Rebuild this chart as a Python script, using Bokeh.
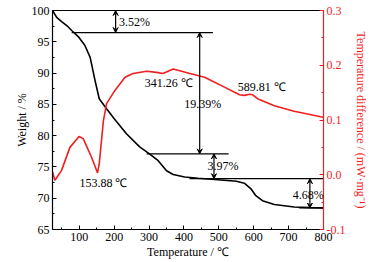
from bokeh.plotting import figure
from bokeh.models import (Range1d, LinearAxis, Arrow, VeeHead, Label, FixedTicker)
from bokeh.embed import file_html
from bokeh.resources import INLINE

# TG curve (weight %)
tg_T = [23, 35, 50, 64, 78, 99, 116, 131, 145, 157, 178, 200, 235, 273, 301, 326, 350, 369, 402, 440, 497, 550, 573, 592, 606, 625, 659, 716, 760, 800]
tg_W = [100, 98.9, 98.2, 97.6, 96.8, 95.7, 94.4, 92.5, 88.8, 85.9, 84.3, 82.7, 80.3, 78.2, 77.1, 76.0, 74.4, 73.8, 73.4, 73.2, 72.95, 72.7, 72.4, 71.5, 70.4, 69.6, 69.0, 68.6, 68.5, 68.45]

# DTA curve (mW/mg)
dta_T = [23, 30, 49, 73, 99, 111, 135, 152, 157, 169, 178, 202, 231, 254, 293, 321, 340, 369, 393, 417, 459, 516, 559, 573, 589, 597, 611, 659, 716, 792, 800]
dta_D = [0.005, -0.010, 0.008, 0.050, 0.070, 0.066, 0.032, 0.0035, 0.020, 0.099, 0.130, 0.154, 0.178, 0.185, 0.189, 0.187, 0.185, 0.193, 0.189, 0.185, 0.178, 0.160, 0.146, 0.145, 0.147, 0.146, 0.139, 0.126, 0.116, 0.106, 0.105]

# mass-loss steps (%)
steps = [3.52, 19.39, 3.97, 4.68]
peak_labels = ["153.88 ℃", "341.26 ℃", "589.81 ℃"]
x_ticks = [100, 200, 300, 400, 500, 600, 700, 800]
y_ticks = [65, 70, 75, 80, 85, 90, 95, 100]
y2_ticks = [-0.1, 0.0, 0.1, 0.2, 0.3]
y2_title = "Temperature difference / (mW·mg⁻¹)"

FONT = "Liberation Serif"
RED = "#f01e1e"

levels = [100.0]
for s in steps:
    levels.append(round(levels[-1] - s, 2))

p = figure(width=375, height=262, output_backend="svg", toolbar_location=None,
           x_range=Range1d(23, 800), y_range=Range1d(65, 100),
           min_border_left=52, min_border_right=52, min_border_top=10, min_border_bottom=33)
p.extra_y_ranges = {"dta": Range1d(-0.1, 0.3)}
p.outline_line_color = None
p.xgrid.visible = False
p.ygrid.visible = False
p.background_fill_color = "white"
p.border_fill_color = "white"

def style_axis(ax, color="black"):
    ax.axis_line_color = color
    ax.axis_line_width = 1.2
    ax.major_tick_line_color = color
    ax.minor_tick_line_color = color
    ax.major_tick_in = 4
    ax.major_tick_out = 0
    ax.minor_tick_in = 2
    ax.minor_tick_out = 0
    ax.major_label_text_font = FONT
    ax.major_label_text_font_size = "12px"
    ax.major_label_text_color = color
    ax.axis_label_text_font = FONT
    ax.axis_label_text_font_size = "12px"
    ax.axis_label_text_font_style = "normal"
    ax.axis_label_text_color = color

xa = p.xaxis[0]
style_axis(xa)
xa.ticker = FixedTicker(ticks=x_ticks, minor_ticks=[50 + 100 * i for i in range(8)])
xa.axis_label = "Temperature / ℃"
xa.major_label_standoff = 3
xa.axis_label_standoff = 1

ya = p.yaxis[0]
style_axis(ya)
ya.ticker = FixedTicker(ticks=y_ticks, minor_ticks=[67.5 + 5 * i for i in range(7)])
ya.axis_label = "Weight / %"
ya.major_label_standoff = 3
ya.axis_label_standoff = 0

ra = LinearAxis(y_range_name="dta", axis_label=y2_title)
style_axis(ra, RED)
ra.ticker = FixedTicker(ticks=y2_ticks, minor_ticks=[-0.05, 0.05, 0.15, 0.25])
ra.major_label_overrides = {-0.1: "-0.1", 0.0: "0.0", 0.1: "0.1", 0.2: "0.2", 0.3: "0.3"}
ra.major_label_standoff = 3
ra.axis_label_standoff = 6
p.add_layout(ra, "right")

ta = LinearAxis(major_tick_in=0, major_tick_out=0, minor_tick_in=0, minor_tick_out=0,
                major_label_text_font_size="0px", axis_line_color="black", axis_line_width=1.2)
ta.ticker = FixedTicker(ticks=[])
p.add_layout(ta, "above")

# curves
p.line(tg_T, tg_W, line_color="black", line_width=1.6)
p.line(dta_T, dta_D, line_color=RED, line_width=1.6, y_range_name="dta")

# reference segments
p.segment(x0=[78, 293, 416, 730], y0=levels[1:], x1=[483, 528, 800, 800], y1=levels[1:],
          line_color="black", line_width=1.2)

# double arrows
for xa_, i in zip([204, 445, 486, 761], range(4)):
    p.add_layout(Arrow(x_start=xa_, y_start=levels[i], x_end=xa_, y_end=levels[i + 1],
                       line_color="black", line_width=1.2,
                       start=VeeHead(size=5, line_color="black", fill_color="black"),
                       end=VeeHead(size=5, line_color="black", fill_color="black")))

def lab(x, y, t, align="center"):
    p.add_layout(Label(x=x, y=y, text=t, text_font=FONT, text_font_size="12px",
                       text_align=align, text_baseline="middle", text_color="black"))

lab(214, 98.13, f"{steps[0]:.2f}%", "left")
lab(454, 85.1, f"{steps[1]:.2f}%")
lab(512, 75.13, f"{steps[2]:.2f}%")
lab(756, 70.56, f"{steps[3]:.2f}%")
lab(169, 72.4, peak_labels[0])
lab(356, 88.45, peak_labels[1])
lab(623, 87.75, peak_labels[2])

open("out.html", "w").write(file_html(p, INLINE))
